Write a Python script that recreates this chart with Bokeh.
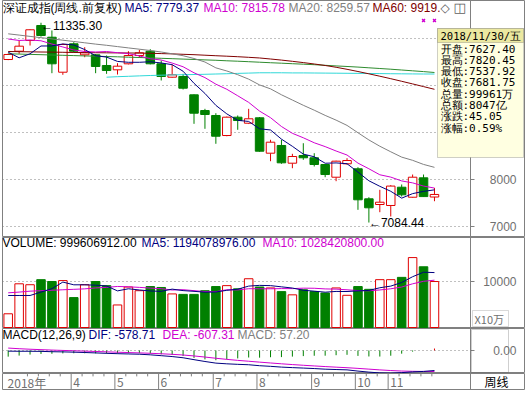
import numpy as np
from bokeh.plotting import figure
from bokeh.models import Range1d, Label, BoxAnnotation, ColumnDataSource, Span
from bokeh.layouts import column
from bokeh.embed import file_html
from bokeh.resources import INLINE
from bokeh.core.properties import value

# ---------------- data ----------------
weeks = ["2018-02-23", "2018-03-02", "2018-03-09", "2018-03-16", "2018-03-23", "2018-03-30",
         "2018-04-04", "2018-04-13", "2018-04-20", "2018-04-27", "2018-05-04", "2018-05-11",
         "2018-05-18", "2018-05-25", "2018-06-01", "2018-06-08", "2018-06-15", "2018-06-22",
         "2018-06-29", "2018-07-06", "2018-07-13", "2018-07-20", "2018-07-27", "2018-08-03",
         "2018-08-10", "2018-08-17", "2018-08-24", "2018-08-31", "2018-09-07", "2018-09-14",
         "2018-09-21", "2018-09-28", "2018-10-12", "2018-10-19", "2018-10-26", "2018-11-02",
         "2018-11-09", "2018-11-16", "2018-11-23", "2018-11-30"]

open_ = [10553, 10730, 10958, 11277, 11028, 10283, 10888, 10653, 10653, 10426,
         10334, 10462, 10639, 10730, 10462, 10177, 10192, 9802, 9468, 9362,
         8936, 9326, 9198, 9313, 8560, 8724, 8347, 8511, 8462, 8319,
         8049, 8334, 8228, 7589, 7468, 7447, 7836, 7623, 8036, 7627.40]
high = [10680, 10958, 11200, 11335.30, 11171, 10890, 10922, 10815, 10670, 10639,
        10475, 10730, 10760, 10773, 10532, 10447, 10249, 9810, 9504, 9411,
        9340, 9362, 9504, 9330, 8845, 8845, 8547, 8772, 8560, 8330,
        8400, 8453, 8262, 7623, 7781, 7880, 7894, 8106, 8106, 7820.45]
low = [10540, 10675, 10851, 11040, 10262, 10228, 10696, 10602, 10262, 10249,
       10234, 10450, 10589, 10450, 10107, 10164, 9915, 9185, 9079, 8760,
       8920, 9058, 9180, 8590, 8389, 8334, 8240, 8419, 8277, 8049,
       7964, 8319, 7355, 7084.44, 7304, 7213, 7638, 7610, 7630, 7537.92]
close = [10660, 10837, 11186, 11064, 10462, 10873, 10730, 10696, 10405, 10320,
         10411, 10639, 10696, 10462, 10192, 10228, 9943, 9411, 9383, 8921,
         9326, 9255, 9292, 8602, 8794, 8355, 8489, 8462, 8319, 8106,
         8390, 8404, 7568, 7398, 7517, 7860, 7674, 8049, 7636.70, 7681.75]

# volume in units of 10万 shares (axis "X10万")
volume = [2980, 9500, 9300, 10400, 10000, 10200, 6500, 9300, 10000, 9100,
          4900, 8800, 8000, 8900, 8700, 7300, 7200, 7200, 8000, 8900,
          9100, 8400, 10600, 8800, 8600, 7800, 7100, 8200, 7800, 7500,
          8600, 7000, 8900, 8300, 10400, 10400, 10900, 15200, 13200, 9996.06912]

# moving-average values before enough weeks are on screen
ma5_head = [10709, 10590, 10675, 10841]
ma10_head = [10990, 10958, 10969, 10952, 10883, 10820, 10756, 10724, 10713]
ma20_head = [11100, 11073, 11045, 11018, 10992, 10964, 10937, 10909, 10881, 10856,
             10828, 10800, 10773, 10745, 10713, 10675, 10634, 10575, 10500]
ma60 = [10724, 10720, 10717, 10713, 10711, 10707, 10703, 10700, 10698, 10696,
        10694, 10692, 10690, 10686, 10679, 10673, 10664, 10656, 10645, 10634,
        10624, 10613, 10600, 10586, 10564, 10541, 10515, 10488, 10458, 10426,
        10388, 10345, 10298, 10249, 10198, 10145, 10090, 10034, 9977, 9919.4]
ma120 = [10675, 10669, 10662, 10656, 10649, 10643, 10637, 10630, 10624, 10617,
         10611, 10603, 10596, 10588, 10579, 10571, 10562, 10554, 10545, 10537,
         10526, 10517, 10507, 10496, 10485, 10475, 10464, 10454, 10443, 10430,
         10417, 10405, 10392, 10377, 10362, 10347, 10330, 10313, 10296, 10277]
ma250_start = 9
ma250 = [10177, 10188, 10196, 10205, 10213, 10220, 10226, 10230, 10234, 10239,
         10245, 10251, 10258, 10264, 10271, 10271, 10271, 10268, 10268, 10266,
         10264, 10262, 10260, 10258, 10256, 10254, 10251, 10249, 10247, 10245, 10245]

vol_ma5_head = [6960, 6960, 6960, 7700]
vol_ma10_head = [7540, 7700, 7900, 8000, 8100, 8200, 8300, 8400, 8600]

dif = [-19, -22, -22, -25, -35, -40, -48, -58, -70, -82,
       -92, -100, -108, -125, -150, -175, -210, -265, -318, -365,
       -385, -400, -412, -440, -458, -480, -495, -508, -522, -540,
       -550, -560, -595, -625, -648, -655, -640, -618, -605, -578.71]
dea = [70, 51.6, 36.9, 24.5, 12.6, 2.1, -7.9, -17.9, -28.3, -39.0,
       -49.6, -59.7, -69.4, -80.5, -94.4, -110.5, -130.4, -157.3, -189.4, -224.5,
       -256.6, -285.3, -310.6, -336.5, -360.8, -384.6, -406.7, -427.0, -446.0, -464.8,
       -481.8, -497.5, -517.0, -538.6, -560.5, -579.4, -594.0, -601.5, -605.5, -607.31]

flag_weeks = [38, 39]

price_grid = [7000, 8000, 9000, 10000, 11000]
price_ticks = [7000, 8000]          # the others sit under the info box
vol_ticks = [10000]
macd_ticks = [0]

# readouts shown in the headers / info panel
hdr_ma5, hdr_ma10, hdr_ma20, hdr_ma60 = 7779.37, 7815.78, 8259.57, 9919.40
hdr_vol_ma5, hdr_vol_ma10 = 1194078976.00, 1028420800.00
turnover_yi = 8047

# ---------------- derived ----------------
n = len(close)
idx = np.arange(n)
o = np.array(open_, float); c = np.array(close, float)
h = np.array(high, float); l = np.array(low, float)
vol = np.array(volume, float)


def rolling(vals, win, head):
    out = list(head)
    for i in range(len(head), len(vals)):
        out.append(float(np.mean(vals[i - win + 1:i + 1])))
    return out


ma5 = rolling(c, 5, ma5_head)
ma10 = rolling(c, 10, ma10_head)
ma20 = rolling(c, 20, ma20_head)
vma5 = rolling(vol, 5, vol_ma5_head)
vma10 = rolling(vol, 10, vol_ma10_head)
macd = 2 * (np.array(dif) - np.array(dea))

# ---------------- style / layout ----------------
RED = "#e00000"; GREEN = "#008000"; NAVY = "#000080"; MAG = "#d000d0"
GRAY = "#808080"; DRED = "#800000"; DGREEN = "#2e8b2e"; CYAN = "#30d8d8"
FRAME = "#808080"; AXT = "#707070"
W = 526
LAT = "Liberation Sans"; CJK = "Noto Sans CJK SC"; MONO = "DejaVu Sans Mono"

PX = 10.93                      # pixels per week
X0 = 7.7                        # pixel centre of the first week
xr = Range1d((2 - X0) / PX, (524 - X0) / PX)
XSEP = (470 - X0) / PX          # price area | scale column


def base_fig(height, yr, bottom=0):
    f = figure(width=W, height=height, x_range=xr, y_range=yr,
               x_axis_location=None, y_axis_location=None,
               toolbar_location=None, output_backend="svg",
               min_border_left=2, min_border_right=2, min_border_top=0,
               min_border_bottom=bottom, background_fill_color="white",
               border_fill_color="white", outline_line_color=FRAME)
    f.xgrid.visible = False
    f.ygrid.visible = False
    f.add_layout(Span(location=XSEP, dimension="height", line_color=FRAME, line_width=1))
    return f


def scale_column(f, grid, ticks, fmt="{:.0f}"):
    """dotted grid on the price area, ticks + labels in the right column"""
    if grid:
        f.segment(x0=[xr.start] * len(grid), x1=[XSEP] * len(grid), y0=grid, y1=grid,
                  line_color=GRAY, line_dash="1 3", line_width=1)
    f.segment(x0=[XSEP] * len(ticks), x1=[XSEP + 4 / PX] * len(ticks), y0=ticks, y1=ticks,
              line_color=FRAME)
    f.text(x=[XSEP] * len(ticks), y=ticks, text=[fmt.format(t) for t in ticks],
           x_offset=46, text_align="right", text_baseline="middle",
           text_font=value(LAT), text_font_size="12px", text_color=AXT)


def clabel(f, x, y, text, color="black", font=LAT, size="12px", align="left"):
    f.add_layout(Label(x=x, y=y, x_units="canvas", y_units="canvas", text=text,
                       text_color=color, text_font=font, text_font_size=size,
                       text_baseline="middle", text_align=align))


def cbox(f, left, right, top, bottom, fill="white", line=FRAME, alpha=1.0):
    f.add_layout(BoxAnnotation(left=left, right=right, top=top, bottom=bottom,
                               left_units="canvas", right_units="canvas",
                               top_units="canvas", bottom_units="canvas",
                               fill_color=fill, fill_alpha=alpha,
                               line_color=line, line_width=1))


# ---------------- price panel ----------------
p = base_fig(237, Range1d(6766, 11809))
scale_column(p, price_grid, price_ticks)

up = c >= o
tb = np.maximum(o, c); bb = np.minimum(o, c)
src_up = ColumnDataSource(dict(x=idx[up], top=tb[up], bottom=bb[up], high=h[up], low=l[up]))
src_dn = ColumnDataSource(dict(x=idx[~up], top=tb[~up], bottom=bb[~up], high=h[~up], low=l[~up]))

p.segment(x0="x", y0="high", x1="x", y1="top", source=src_up, line_color=RED)
p.segment(x0="x", y0="bottom", x1="x", y1="low", source=src_up, line_color=RED)
p.vbar(x="x", width=0.78, top="top", bottom="bottom", source=src_up,
       fill_color="white", line_color=RED)
p.segment(x0="x", y0="high", x1="x", y1="low", source=src_dn, line_color=GREEN)
p.vbar(x="x", width=0.78, top="top", bottom="bottom", source=src_dn,
       fill_color=GREEN, line_color=GREEN)

p.line(idx, ma120, line_color=DGREEN, line_width=1)
p.line(np.arange(ma250_start, n), ma250, line_color=CYAN, line_width=1)
p.line(idx, ma60, line_color=DRED, line_width=1)
p.line(idx, ma20, line_color=GRAY, line_width=1)
p.line(idx, ma10, line_color=MAG, line_width=1)
p.line(idx, ma5, line_color=NAVY, line_width=1)

yr = p.y_range
flag_y = yr.end - 20 / 237 * (yr.end - yr.start)
p.scatter(flag_weeks, [flag_y] * len(flag_weeks), marker="x", size=4,
          line_color=MAG, line_width=1.5)

hi_i = int(np.argmax(h)); lo_i = int(np.argmin(l))
p.add_layout(Label(x=hi_i, y=h[hi_i], text="←" + f"{h[hi_i]:.2f}", text_font=LAT,
                   text_font_size="12px", text_baseline="middle", y_offset=-3,
                   text_color="black"))
p.add_layout(Label(x=lo_i, y=l[lo_i], text="←" + f"{l[lo_i]:.2f}", text_font=LAT,
                   text_font_size="12px", text_baseline="middle", text_color="black"))

# header
clabel(p, 2, 7, "深证成指(周线.前复权)")
clabel(p, 124, 7, f"MA5: {hdr_ma5:.2f}", NAVY)
clabel(p, 203, 7, f"MA10: {hdr_ma10:.2f}", MAG)
clabel(p, 288, 7, f"MA20: {hdr_ma20:.2f}", GRAY)
clabel(p, 372, 7, f"MA60: {hdr_ma60:.2f}"[:11], DRED)
clabel(p, 440, 7, "◇", "#606060", "DejaVu Sans", "12px")
clabel(p, 453, 7, "◫", "#606060", "DejaVu Sans", "13px")

# info box
cbox(p, 437, 523, 28, 157, fill="#ffffe1", line="#606060")
cbox(p, 437, 523, 28, 42, fill="#ebe8a0", line="#606060")
last = n - 1
chg = c[last] - c[last - 1]
info = [f"开盘:{o[last]:.2f}", f"最高:{h[last]:.2f}", f"最低:{l[last]:.2f}",
        f"收盘:{c[last]:.2f}", f"总量:{vol[last] * 10:.0f}万", f"总额:{turnover_yi}亿",
        f"涨跌:{chg:.2f}", f"涨幅:{chg / c[last - 1] * 100:.2f}%"]
y_, m_, d_ = weeks[last].split("-")
wk = "一二三四五六日"[int(np.datetime64(weeks[last]).astype("datetime64[D]").view("int64") + 3) % 7]
clabel(p, 440, 35, f"{y_}/{m_}/{d_}/{wk}", "black", MONO, "10.5px")
for k, t in enumerate(info):
    clabel(p, 440, 48.5 + k * 11.3, t, "black", MONO, "11px")

# ---------------- volume panel ----------------
v = base_fig(91, Range1d(-217, 19565))
scale_column(v, vol_ticks, vol_ticks)
vup = ColumnDataSource(dict(x=idx[up], top=vol[up]))
vdn = ColumnDataSource(dict(x=idx[~up], top=vol[~up]))
v.vbar(x="x", width=0.78, top="top", bottom=0, source=vdn, fill_color=GREEN, line_color=GREEN)
v.vbar(x="x", width=0.78, top="top", bottom=0, source=vup, fill_color="white", line_color=RED)
v.line(idx, vma10, line_color=MAG, line_width=1)
v.line(idx, vma5, line_color=NAVY, line_width=1)
clabel(v, 2, 5, f"VOLUME: {vol[last] * 1e5:.2f}")
clabel(v, 141, 5, f"MA5: {hdr_vol_ma5:.2f}", NAVY)
clabel(v, 262, 5, f"MA10: {hdr_vol_ma10:.2f}", MAG)
cbox(v, 472, 508, 73, 89, fill="white", line=GRAY)
clabel(v, 474, 81, "X10万", AXT, CJK, "11px")

# ---------------- MACD panel ----------------
m = base_fig(45, Range1d(-665, 636))
scale_column(m, macd_ticks, macd_ticks, "{:.2f}")
hist_col = [RED if x_ > 0 else GREEN for x_ in macd]
m.segment(x0=idx, y0=np.zeros(n), x1=idx, y1=macd, line_color=hist_col, line_width=1)
m.line(idx, dea, line_color=MAG, line_width=1)
m.line(idx, dif, line_color=NAVY, line_width=1)
clabel(m, 2, 6, "MACD(12,26,9)")
clabel(m, 88, 6, f"DIF: {dif[-1]:.2f}", NAVY)
clabel(m, 162, 6, f"DEA: {dea[-1]:.2f}", MAG)
clabel(m, 237, 6, f"MACD: {macd[-1]:.2f}", GRAY)
cbox(m, 471, 508, 1, 44, fill="white", line="#606060", alpha=0.0)

# ---------------- date row ----------------
d = base_fig(20, Range1d(0, 1), bottom=4)
months = [int(w_[5:7]) for w_ in weeks]
starts = [i for i in range(n) if i == 0 or months[i] != months[i - 1]]
lab_x, lab_t = [], []
for i in starts:
    if i == 0:
        lab_x.append(i - 0.24); lab_t.append(weeks[0][:4] + "年")
    elif i >= 5:
        lab_x.append(i - 0.24); lab_t.append(str(months[i]))
sep_x = lab_x[1:]
d.segment(x0=sep_x, y0=[0] * len(sep_x), x1=sep_x, y1=[1] * len(sep_x), line_color=GRAY)
minor = [i - 0.24 for i in range(n) if i not in starts]
d.segment(x0=minor, y0=[1] * len(minor), x1=minor, y1=[0.82] * len(minor), line_color=GRAY)
d.text(x=lab_x, y=[0.45] * len(lab_x), text=lab_t, x_offset=2, text_baseline="middle",
       text_font=value(CJK), text_font_size="12px", text_color=AXT)
clabel(d, 484, 8, "周线", "black", CJK, "12px")

layout = column(p, v, m, d, spacing=0)
open("out.html", "w").write(file_html(layout, INLINE))
